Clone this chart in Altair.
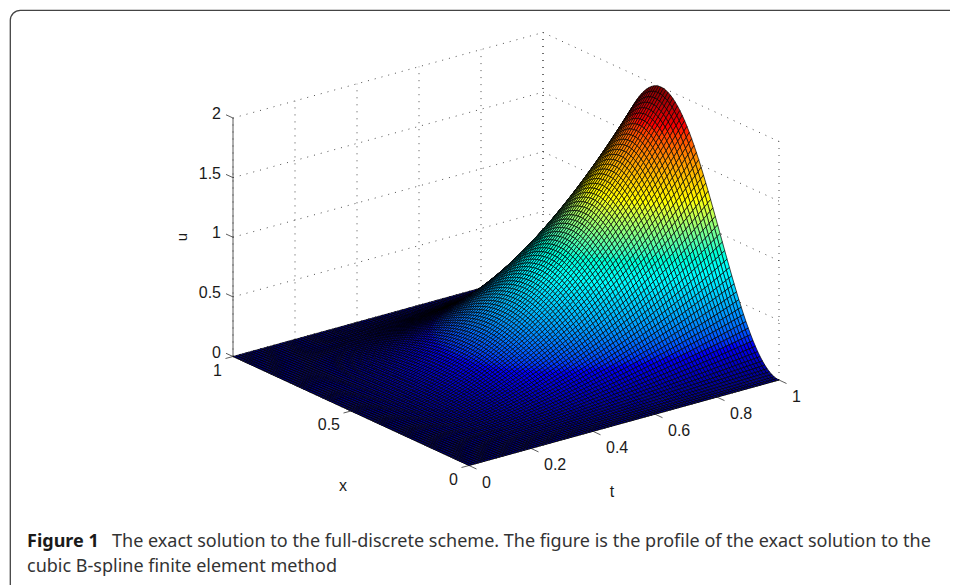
import altair as alt

# Height profile across x (at t = 1 the surface equals PEAK * X_SHAPE)
PEAK = 2.0
X_SHAPE = [
 0, .00099, .00394, .00886, .01571, .02447, .03511, .04759, .06185, .07784,
 .09549, .11474, .13552, .15773, .18129, .20611, .23209, .25912, .28711, .31594,
 .34549, .37566, .40631, .43733, .46860, .5, .53140, .56267, .59369, .62434,
 .65451, .68406, .71289, .74088, .76791, .79389, .81871, .84227, .86448, .88526,
 .90451, .92216, .93815, .95241, .96489, .97553, .98429, .99114, .99606, .99901,
 1,
 .99901, .99606, .99114, .98429, .97553, .96489, .95241, .93815, .92216, .90451,
 .88526, .86448, .84227, .81871, .79389, .76791, .74088, .71289, .68406, .65451,
 .62434, .59369, .56267, .53140, .5, .46860, .43733, .40631, .37566, .34549,
 .31594, .28711, .25912, .23209, .20611, .18129, .15773, .13552, .11474, .09549,
 .07784, .06185, .04759, .03511, .02447, .01571, .00886, .00394, .00099, 0]
# Growth along t
T_GROWTH = [
 0, .0001, .0004, .0009, .0016, .0025, .0036, .0049, .0064, .0081,
 .01, .0121, .0144, .0169, .0196, .0225, .0256, .0289, .0324, .0361,
 .04, .0441, .0484, .0529, .0576, .0625, .0676, .0729, .0784, .0841,
 .09, .0961, .1024, .1089, .1156, .1225, .1296, .1369, .1444, .1521,
 .16, .1681, .1764, .1849, .1936, .2025, .2116, .2209, .2304, .2401,
 .25, .2601, .2704, .2809, .2916, .3025, .3136, .3249, .3364, .3481,
 .36, .3721, .3844, .3969, .4096, .4225, .4356, .4489, .4624, .4761,
 .49, .5041, .5184, .5329, .5476, .5625, .5776, .5929, .6084, .6241,
 .64, .6561, .6724, .6889, .7056, .7225, .7396, .7569, .7744, .7921,
 .81, .8281, .8464, .8649, .8836, .9025, .9216, .9409, .9604, .9801, 1]

X_TICKS = [0, 0.5, 1]
X_LABELS = ["0", "0.5", "1"]
T_TICKS = [0, 0.2, 0.4, 0.6, 0.8, 1]
T_LABELS = ["0", "0.2", "0.4", "0.6", "0.8", "1"]
U_TICKS = [0, 0.5, 1, 1.5, 2]
U_LABELS = ["0", "0.5", "1", "1.5", "2"]

CAPTION_BOLD = "Figure 1"
CAPTION_1 = "The exact solution to the full-discrete scheme. The figure is the profile of the exact solution to the"
CAPTION_2 = "cubic B-spline finite element method"

JET_STOPS = [0, 0.22, 0.73, 1.25, 1.75, 2]
JET_COLORS = ["#00008f", "#0000ff", "#00ffff", "#ffff00", "#ff0000", "#800000"]

FONT_AX = "Liberation Sans"
FONT_CAP = "Noto Sans"
AX_SIZE = 16
CAP_SIZE = 18.0


def P(x, t, u=0.0):
    """Orthographic view of the 3-D box, in page pixels."""
    return [round(469 - 236 * x + 310 * t, 2),
            round(465.5 - 109 * x - 85.5 * t - 119.25 * u, 2)]


def line(a, b, kind):
    return {"type": "Feature", "properties": {"kind": kind},
            "geometry": {"type": "LineString", "coordinates": [a, b]}}


n = len(X_SHAPE) - 1
cells = []
for j in range(n - 1, -1, -1):
    for i in range(n - 1, -1, -1):
        corners = [(i, j), (i + 1, j), (i + 1, j + 1), (i, j + 1)]
        ring = [P(a / n, b / n, PEAK * X_SHAPE[a] * T_GROWTH[b]) for a, b in corners]
        ring.append(ring[0])
        val = sum(PEAK * X_SHAPE[a] * T_GROWTH[b] for a, b in corners) / 4
        cells.append({"type": "Feature", "properties": {"u": round(val, 4)},
                      "geometry": {"type": "Polygon", "coordinates": [ring]}})

dotted = []
for u in U_TICKS:
    dotted.append(line(P(1, 0, u), P(1, 1, u), "grid"))
    dotted.append(line(P(1, 1, u), P(0, 1, u), "grid"))
for t in T_TICKS:
    dotted.append(line(P(1, t, 0), P(1, t, 2), "grid"))
    dotted.append(line(P(1, t, 0), P(0, t, 0), "grid"))
for x in X_TICKS:
    dotted.append(line(P(x, 1, 0), P(x, 1, 2), "grid"))
    dotted.append(line(P(x, 0, 0), P(x, 1, 0), "grid"))

solid = [line(P(1, 0, 0), P(1, 0, 2), "axis"),
         line(P(1, 0, 0), P(0, 0, 0), "axis"),
         line(P(0, 0, 0), P(0, 1, 0), "axis")]
for u in U_TICKS:
    a = P(1, 0, u)
    solid.append(line(a, [a[0] - 7, a[1] - 3.2], "tick"))
for x in X_TICKS:
    a = P(x, 0, 0)
    solid.append(line(a, [a[0] - 7.5, a[1] + 2], "tick"))
for t in T_TICKS:
    a = P(0, t, 0)
    solid.append(line(a, [a[0] + 7.5, a[1] + 3.5], "tick"))

labels = []
for v, s in zip(U_TICKS, U_LABELS):
    a = P(1, 0, v)
    labels.append({"lon": a[0] - 12, "lat": a[1] - 4, "s": s, "al": "right"})
for v, s in zip(X_TICKS, X_LABELS):
    a = P(v, 0, 0)
    labels.append({"lon": a[0] - 11, "lat": a[1] + 14, "s": s, "al": "right"})
for v, s in zip(T_TICKS, T_LABELS):
    a = P(0, v, 0)
    labels.append({"lon": a[0] + 13, "lat": a[1] + 17, "s": s, "al": "left"})
labels.append({"lon": 343, "lat": 486, "s": "x", "al": "center"})
labels.append({"lon": 612, "lat": 492, "s": "t", "al": "center"})

proj = dict(type="identity", scale=1, translate=[-8, -8])


def text_layer(rows, **kw):
    return alt.Chart(alt.Data(values=rows)).mark_text(**kw).encode(
        longitude="lon:Q", latitude="lat:Q", text="s:N").project(**proj)


frame = alt.Chart(alt.Data(values=[{"a": 1}])).mark_rect(
    fill="white", stroke="#444444", strokeWidth=1.3, cornerRadius=10
).encode(x=alt.value(2.3), y=alt.value(2.3), x2=alt.value(1100), y2=alt.value(1100))

dots = alt.Chart(alt.Data(values=dotted)).mark_geoshape(
    filled=False, stroke="#222222", strokeWidth=0.8, strokeDash=[1, 6]).project(**proj)
axes = alt.Chart(alt.Data(values=solid)).mark_geoshape(
    filled=False, stroke="#333333", strokeWidth=0.8).project(**proj)
surface = alt.Chart(alt.Data(values=cells)).mark_geoshape(
    stroke="#000000", strokeWidth=0.7
).encode(
    fill=alt.Fill("properties.u:Q", legend=None,
                  scale=alt.Scale(domain=JET_STOPS, range=JET_COLORS))
).project(**proj)

tick_text = []
for al in ["left", "right", "center"]:
    rows = [r for r in labels if r["al"] == al]
    tick_text.append(text_layer(rows, font=FONT_AX, fontSize=AX_SIZE, color="#1a1a1a",
                                align=al, baseline="middle"))
u_label = text_layer([{"lon": 182, "lat": 237, "s": "u"}], font=FONT_AX, fontSize=AX_SIZE - 1,
                     color="#1a1a1a", align="center", baseline="middle", angle=270)
cap_b = text_layer([{"lon": 27, "lat": 547, "s": CAPTION_BOLD}], font=FONT_CAP, fontSize=CAP_SIZE,
                   fontWeight="bold", color="#1a1a1a", align="left", baseline="alphabetic")
cap_1 = text_layer([{"lon": 112, "lat": 547, "s": CAPTION_1}], font=FONT_CAP, fontSize=CAP_SIZE,
                   color="#333333", align="left", baseline="alphabetic")
cap_2 = text_layer([{"lon": 27, "lat": 572, "s": CAPTION_2}], font=FONT_CAP, fontSize=CAP_SIZE,
                   color="#333333", align="left", baseline="alphabetic")

chart = alt.layer(frame, dots, axes, surface, *tick_text, u_label, cap_b, cap_1, cap_2).properties(
    width=942, height=577, padding=0, autosize=alt.AutoSizeParams(type="none")
).configure_view(stroke=None)

chart.save("out.html", embed_options={"renderer": "svg", "actions": False})
